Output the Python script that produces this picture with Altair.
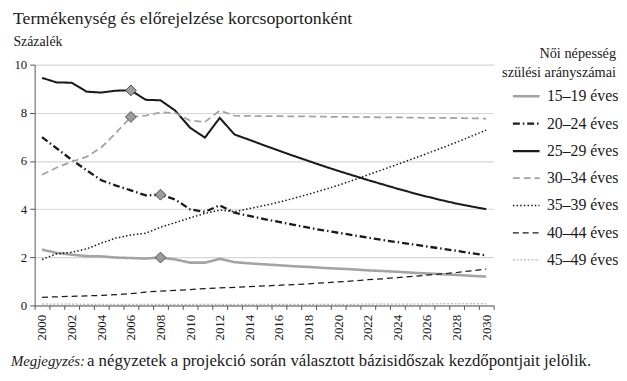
import altair as alt
import pandas as pd

SERIF = "'Liberation Serif', 'Times New Roman', 'DejaVu Serif', serif"

years = list(range(2000, 2031))
groups = ["15–19 éves", "20–24 éves", "25–29 éves", "30–34 éves",
          "35–39 éves", "40–44 éves", "45–49 éves"]

s15_19 = [2.32, 2.18, 2.11, 2.05, 2.04, 1.99, 1.97, 1.95, 1.99, 1.91, 1.78,
          1.78, 1.94, 1.80, 1.75, 1.71, 1.67, 1.63, 1.60, 1.56, 1.53, 1.50,
          1.46, 1.43, 1.40, 1.36, 1.33, 1.30, 1.27, 1.23, 1.20]
s20_24 = [6.99, 6.52, 6.05, 5.62, 5.20, 4.98, 4.78, 4.57, 4.60, 4.40, 3.99,
          3.89, 4.16, 3.85, 3.72, 3.59, 3.47, 3.35, 3.23, 3.12, 3.02, 2.92,
          2.82, 2.72, 2.63, 2.54, 2.45, 2.36, 2.27, 2.17, 2.08]
s25_29 = [9.45, 9.26, 9.25, 8.88, 8.84, 8.92, 8.93, 8.54, 8.52, 8.09, 7.38,
          6.97, 7.79, 7.10, 6.88, 6.65, 6.43, 6.21, 6.00, 5.79, 5.59, 5.40,
          5.21, 5.03, 4.85, 4.68, 4.52, 4.37, 4.23, 4.11, 4.00]
s30_34 = [5.43, 5.73, 5.97, 6.17, 6.56, 7.17, 7.83, 7.88, 8.02, 7.99, 7.68,
          7.62, 8.09, 7.88, 7.87, 7.86, 7.86, 7.85, 7.85, 7.84, 7.83, 7.83,
          7.82, 7.81, 7.81, 7.80, 7.79, 7.79, 7.78, 7.77, 7.76]
s35_39 = [1.91, 2.15, 2.21, 2.35, 2.59, 2.80, 2.93, 3.00, 3.25, 3.44, 3.64,
          3.82, 3.96, 3.90, 4.02, 4.15, 4.29, 4.45, 4.62, 4.80, 4.99, 5.20,
          5.42, 5.64, 5.86, 6.08, 6.31, 6.54, 6.78, 7.03, 7.28]
s40_44 = [0.34, 0.36, 0.38, 0.40, 0.42, 0.45, 0.49, 0.56, 0.60, 0.63, 0.66,
          0.70, 0.73, 0.75, 0.78, 0.81, 0.84, 0.87, 0.90, 0.94, 0.98, 1.02,
          1.07, 1.11, 1.16, 1.21, 1.26, 1.31, 1.37, 1.44, 1.51]
s45_49 = [0.06, 0.06, 0.06, 0.05, 0.05, 0.05, 0.05, 0.05, 0.05, 0.05, 0.05,
          0.05, 0.05, 0.05, 0.05, 0.05, 0.05, 0.05, 0.05, 0.05, 0.05, 0.05,
          0.06, 0.06, 0.06, 0.06, 0.06, 0.07, 0.07, 0.07, 0.07]

marker_years = [2006, 2006, 2008, 2008]
marker_groups = ["25–29 éves", "30–34 éves", "20–24 éves", "15–19 éves"]

y_ticks = [0, 2, 4, 6, 8, 10]
x_tick_bounds = [y - 0.5 for y in years] + [years[-1] + 0.5]

title_text = "Termékenység és előrejelzése korcsoportonként"
y_title = "Százalék"
legend_title = ["Női népesség", "szülési arányszámai"]
note_italic = "Megjegyzés:"
note_text = "a négyzetek a projekció során választott bázisidőszak kezdőpontjait jelölik."

colors = ["#a3a3a3", "#1a1a1a", "#1a1a1a", "#a3a3a3", "#1a1a1a", "#1a1a1a", "#a0a0a0"]
dashes = [[1, 0], [7, 3, 1.5, 3], [1, 0], [7, 4], [1.5, 2.2], [6, 4], [2, 1.8]]
widths = [2.6, 1.0, 1.5, 2.6, 2.0, 1.2, 2.6]

series = dict(zip(groups, [s15_19, s20_24, s25_29, s30_34, s35_39, s40_44, s45_49]))
df = pd.DataFrame([{"year": y, "group": g, "value": v}
                   for g in groups for y, v in zip(years, series[g])])
mk = pd.DataFrame([{"year": y, "group": g, "value": series[g][years.index(y)]}
                   for y, g in zip(marker_years, marker_groups)])

W, H = 465, 244

x_enc = alt.X(
    "year:Q",
    scale=alt.Scale(domain=[years[0] - 0.5, years[-1] + 0.5], nice=False, zero=False),
    axis=alt.Axis(
        values=x_tick_bounds,
        labelExpr="datum.value % 2 == 1.5 ? toString(datum.value + 0.5) : ''",
        labelAngle=-90, labelOffset=7.5, labelFlush=False, labelOverlap=False,
        labelFont=SERIF, labelFontSize=13, labelColor="#1a1a1a", labelPadding=5,
        tickSize=4, tickColor="#555", domainColor="#555", grid=False, title=None,
    ),
)
y_enc = alt.Y(
    "value:Q",
    scale=alt.Scale(domain=[0, 10], nice=False),
    axis=alt.Axis(
        values=y_ticks, format="d", labelFont=SERIF, labelFontSize=13,
        labelColor="#1a1a1a", labelPadding=3, tickSize=5, tickColor="#555",
        domainColor="#555", grid=True, gridColor="#d6d6d6", gridWidth=1.2,
        labelOverlap=False,
        title=y_title, titleAngle=0, titleAlign="left", titleBaseline="alphabetic",
        titleX=-22, titleY=-19, titleFont=SERIF, titleFontSize=14,
        titleFontWeight="normal", titleColor="#1a1a1a",
    ),
)

lines = alt.Chart(df).mark_line().encode(
    x=x_enc,
    y=y_enc,
    color=alt.Color("group:N", scale=alt.Scale(domain=groups, range=colors),
                    legend=alt.Legend(
                        title=None, orient="none", legendX=483, legendY=17,
                        symbolType="stroke", symbolSize=729, labelFont=SERIF,
                        labelFontSize=16, labelColor="#1a1a1a", labelOffset=6,
                        rowPadding=4.8, padding=0)),
    strokeDash=alt.StrokeDash("group:N", scale=alt.Scale(domain=groups, range=dashes)),
    strokeWidth=alt.StrokeWidth("group:N", scale=alt.Scale(domain=groups, range=widths)),
    detail="group:N",
)

markers = alt.Chart(mk).mark_point(
    shape="diamond", filled=True, fill="#9c9c9c", stroke="#4d4d4d",
    strokeWidth=1, size=120, opacity=1,
).encode(x=x_enc, y=y_enc)


def text_layer(txt, x, y, size, align="left", style="normal"):
    return alt.Chart(alt.InlineData(values=[{"t": txt}])).mark_text(
        align=align, baseline="alphabetic", font=SERIF, fontSize=size,
        fontStyle=style, color="#1a1a1a",
    ).encode(x=alt.value(x), y=alt.value(y), text="t:N")


texts = [
    text_layer(title_text, -22, -41, 18),
    text_layer(legend_title[0], 589, -7, 14.5, align="right"),
    text_layer(legend_title[1], 589, 13, 14.5, align="right"),
    text_layer(note_italic, -24, 305, 15, style="italic"),
    text_layer(note_text, 53, 305, 17),
]

chart = alt.layer(lines, markers, *texts).properties(
    width=W, height=H,
    padding={"left": 27, "top": 55, "right": 127, "bottom": 66},
    autosize=alt.AutoSizeParams(type="none"),
).configure(font=SERIF).configure_view(strokeWidth=0).configure_axis(labelOverlap=False)

chart.save("out.html", embed_options={"renderer": "svg", "actions": False})
